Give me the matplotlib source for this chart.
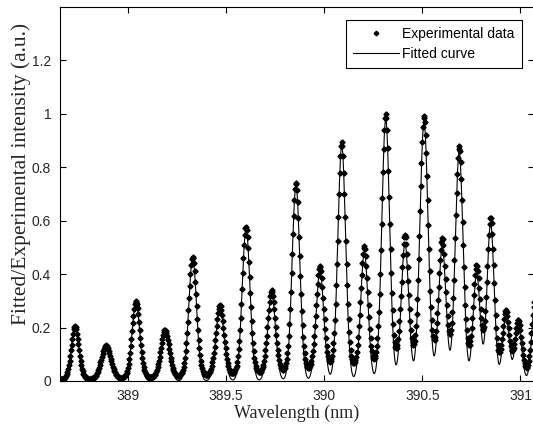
import matplotlib
matplotlib.use("Agg")
import matplotlib.pyplot as plt
import numpy as np

# Line centres (nm), peak heights (a.u.) and gaussian widths (nm)
centers = [388.732, 388.890, 389.042, 389.190, 389.331, 389.470, 389.603,
           389.733, 389.857, 389.979, 390.090, 390.205, 390.314, 390.412,
           390.509, 390.602, 390.688, 390.777, 390.848, 390.926, 390.989,
           391.075]
heights = [0.205, 0.13, 0.295, 0.185, 0.46, 0.275, 0.57, 0.325, 0.73,
           0.41, 0.88, 0.48, 0.98, 0.515, 0.97, 0.50, 0.855, 0.40, 0.59,
           0.24, 0.21, 0.30]
widths = [0.019, 0.025, 0.020, 0.022, 0.020, 0.021, 0.020, 0.020, 0.020,
          0.020, 0.020, 0.019, 0.020, 0.019, 0.021, 0.019, 0.020, 0.018,
          0.018, 0.017, 0.017, 0.017]

# experimental profiles carry lorentzian wings that the fit misses
wing_fraction = 0.2
wing_hwhm = 0.025

wl_fit = np.linspace(388.60, 391.10, 3000)
wl_exp = np.arange(388.655, 391.07, 0.0035)


def fitted(x):
    y = np.zeros_like(x)
    for c, h, s in zip(centers, heights, widths):
        y += h * np.exp(-0.5 * ((x - c) / s) ** 2)
    return y


def experimental(x):
    y = np.zeros_like(x)
    for c, h, s in zip(centers, heights, widths):
        g = np.exp(-0.5 * ((x - c) / s) ** 2)
        lor = 1.0 / (1.0 + ((x - c) / wing_hwhm) ** 2)
        y += h * ((1 - wing_fraction) * g + wing_fraction * lor)
    return y


fig = plt.figure(figsize=(5.33, 4.25), dpi=100)
ax = fig.add_axes([59.5 / 533, 44 / 425, (534 - 59.5) / 533, (381 - 7) / 425])

txt = "#262626"
ax.plot(wl_exp, experimental(wl_exp), linestyle="none", marker="D",
        markersize=2.6, color="k", label="Experimental data")
ax.plot(wl_fit, fitted(wl_fit), color="k", linewidth=0.8, label="Fitted curve")

ax.set_xlim(388.653, 391.069)
ax.set_ylim(0, 1.4)
ax.set_xticks([389, 389.5, 390, 390.5, 391])
ax.set_xticklabels(["389", "389.5", "390", "390.5", "391"])
ax.set_yticks([0, 0.2, 0.4, 0.6, 0.8, 1.0, 1.2])
ax.set_yticklabels(["0", "0.2", "0.4", "0.6", "0.8", "1", "1.2"])
ax.tick_params(direction="in", top=True, right=True, length=4.5, width=0.8,
               labelsize=10, labelcolor=txt, pad=6)
for lab in ax.get_xticklabels() + ax.get_yticklabels():
    lab.set_fontfamily("Liberation Sans")
for sp in ax.spines.values():
    sp.set_linewidth(0.8)

ax.set_xlabel("Wavelength (nm)", family="Liberation Serif", fontsize=13,
              color=txt, labelpad=1)
ax.set_ylabel("Fitted/Experimental intensity (a.u.)", family="Liberation Serif",
              fontsize=15.5, color=txt)
ax.yaxis.set_label_coords(-0.061, 0.553)

leg = ax.legend(loc="upper right", bbox_to_anchor=(0.974, 0.965),
                prop={"family": "Liberation Sans", "size": 10},
                fancybox=False, framealpha=1, edgecolor="k", borderpad=0.5,
                handlelength=3.3, handletextpad=0.25, labelspacing=0.45,
                borderaxespad=0, markerscale=0.9)
leg.get_frame().set_linewidth(0.8)

fig.savefig("out.png", dpi=100)
